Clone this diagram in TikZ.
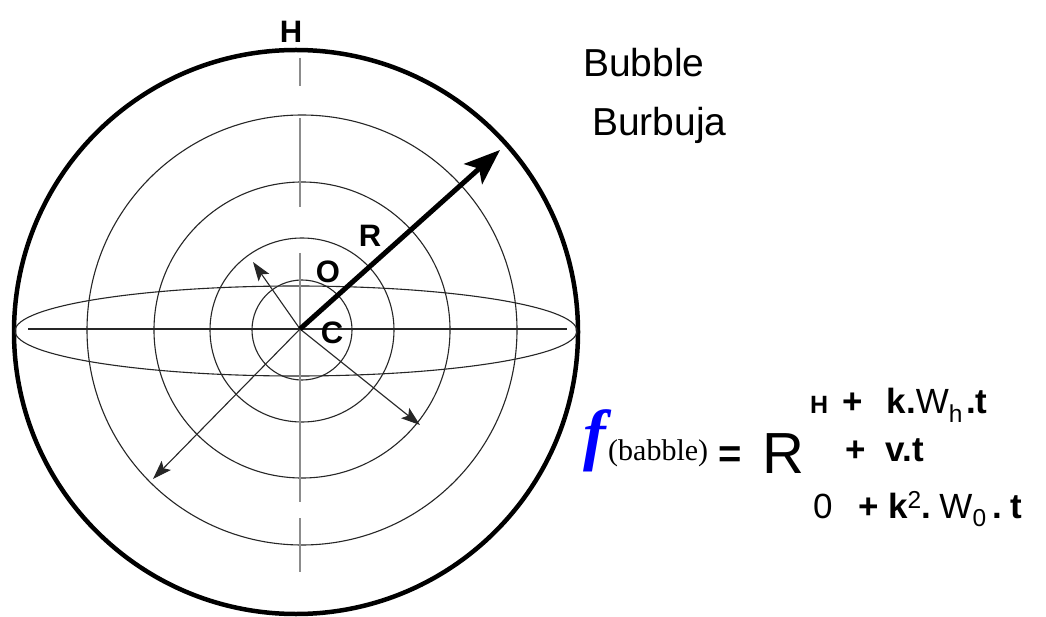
\documentclass[tikz,border=0pt]{standalone}
\usepackage{fontspec}
\setmainfont{Liberation Sans}
\newfontfamily\serifface{Liberation Serif}
\usetikzlibrary{arrows.meta,positioning}

\begin{document}
\begin{tikzpicture}[x=1pt, y=-1pt,
    thinline/.style={line width=1.1pt, draw=black!85},
    axisline/.style={line width=1.6pt, draw=black!45},
    thinarrow/.style={line width=1.1pt, draw=black!85, -{Stealth[length=19pt, width=13pt, inset=4pt]}},
    bigarrow/.style={line width=5pt, -{Stealth[length=36pt, width=27pt, inset=8pt]}},
    letter/.style={inner sep=0pt, anchor=base, font=\fontsize{31}{31}\selectfont\bfseries},
    word/.style={inner sep=0pt, anchor=base west, font=\fontsize{39}{39}\selectfont},
    eqn/.style={inner sep=0pt, anchor=base west, font=\fontsize{35}{35}\selectfont}
]
\fill[white] (0,0) rectangle (1046,617);
\useasboundingbox (0,0) rectangle (1046,617);

% sphere and rings
\draw[line width=4.5pt] (296,332) circle[radius=282];
\foreach \r in {50,92,148,215}
    \draw[thinline] (302,330) circle[radius=\r];
\draw[thinline] (296,331) ellipse[x radius=281, y radius=45];

% axes
\draw[thinline] (28,329) -- (567,329);
\foreach \ya/\yb in {58/86,118/207,253/502,518/572}
    \draw[axisline] (300,\ya) -- (300,\yb);

% radii
\coordinate (ctr) at (300,329);
\coordinate (tipR) at (500,150);
\coordinate (tipUL) at (253,262);
\coordinate (tipDR) at (420,425);
\coordinate (tipDL) at (153,479);
\draw[thinarrow] (ctr) -- (tipUL);
\draw[thinarrow] (ctr) -- (tipDR);
\draw[thinarrow] (ctr) -- (tipDL);
\draw[bigarrow] (ctr) -- (tipR);

% labels
\node[letter] (lblH) at (291,43) {H};
\node[letter] (lblR) at (370,247) {R};
\node[letter] (lblO) at (328,283) {O};
\node[letter] (lblC) at (332,344) {C};

\node[word] (bubble) at (583,77) {Bubble};
\node[word] (burbuja) at (592,136) {Burbuja};

% formula
\node[eqn, text=blue] (fsym) at (583,457) {\serifface\bfseries\itshape\fontsize{68}{68}\selectfont f};
\node[eqn] (fsub) at (608,460) {\serifface\fontsize{30}{30}\selectfont(babble)};
\node[eqn] (eqsign) at (718,467) {\fontsize{40}{40}\selectfont\bfseries =};
\node[eqn] (bigR) at (762,473) {\fontsize{58}{58}\selectfont R};
\node[eqn] (rowA) at (810,413) {{\fontsize{25}{25}\selectfont\bfseries H}\hspace{14pt}\textbf{+}\hspace{24pt}\textbf{k.}W\textsubscript{h}\hspace{3pt}\textbf{.t}};
\node[eqn] (rowB) at (845,461) {\textbf{+}\hspace{20pt}\textbf{v.t}};
\node[eqn] (rowC) at (813,518) {0\hspace{26pt}\textbf{+}\hspace{9pt}\textbf{k}\textsuperscript{2}\textbf{.}\hspace{8pt}W\textsubscript{0}\hspace{6pt}\textbf{.}\hspace{8pt}\textbf{t}};

\end{tikzpicture}
\end{document}
